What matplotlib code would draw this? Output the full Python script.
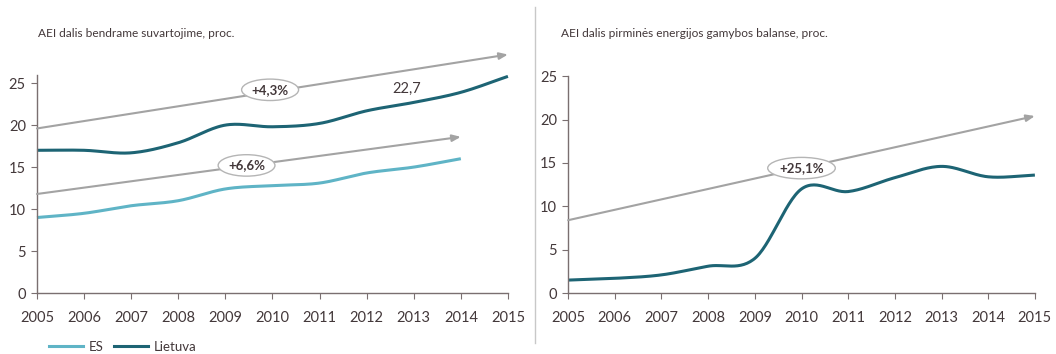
# AEI (renewable energy) share charts - ES vs Lietuva
import numpy as np
import matplotlib.pyplot as plt
from matplotlib.lines import Line2D

# ─── DATA ─────────────────────────────────────────────────────
YEARS        = [2005, 2006, 2007, 2008, 2009, 2010, 2011, 2012, 2013, 2014, 2015]
LT_CONSUME   = [17.0, 17.0, 16.7, 17.9, 20.0, 19.8, 20.2, 21.7, 22.7, 23.9, 25.8]
ES_CONSUME   = [9.0, 9.5, 10.4, 11.0, 12.4, 12.8, 13.1, 14.3, 15.0, 16.0]
LT_PRIMARY   = [1.5, 1.7, 2.1, 3.1, 4.0, 12.0, 11.7, 13.3, 14.6, 13.4, 13.6]

# trend arrows: (x0, y0, x1, y1, label, label_x, label_y)
TRENDS_LEFT  = [(2005, 19.6, 2015, 28.4, "+4,3%", 2009.95, 24.2),
                (2005, 11.8, 2014, 18.6, "+6,6%", 2009.45, 15.2)]
TRENDS_RIGHT = [(2005, 8.4, 2015, 20.4, "+25,1%", 2010.0, 14.4)]

TITLE_LEFT   = "AEI dalis bendrame suvartojime, proc."
TITLE_RIGHT  = "AEI dalis pirminės energijos gamybos balanse, proc."
NOTE_LEFT    = ("22,7", 2012.85, 24.3)
# ──────────────────────────────────────────────────────────────

DARK   = "#1d6474"
LIGHT  = "#5fb4c6"
ARROW  = "#a3a3a3"
TEXT   = "#43383a"
SPINE  = "#7a6f70"

plt.rcParams['font.family'] = ['Lato', 'DejaVu Sans']


def smooth(x, y, n=30):
    # Catmull-Rom style smoothing, like Excel's smoothed line
    x = np.asarray(x, float)
    y = np.asarray(y, float)
    px = np.concatenate([[2 * x[0] - x[1]], x, [2 * x[-1] - x[-2]]])
    py = np.concatenate([[2 * y[0] - y[1]], y, [2 * y[-1] - y[-2]]])
    xs, ys = [], []
    t = np.linspace(0, 1, n, endpoint=False)
    for i in range(1, len(px) - 2):
        for p, out in ((px, xs), (py, ys)):
            p0, p1, p2, p3 = p[i - 1], p[i], p[i + 1], p[i + 2]
            out.extend(0.5 * ((2 * p1) + (-p0 + p2) * t
                              + (2 * p0 - 5 * p1 + 4 * p2 - p3) * t ** 2
                              + (-p0 + 3 * p1 - 3 * p2 + p3) * t ** 3))
    xs.append(x[-1])
    ys.append(y[-1])
    return np.array(xs), np.array(ys)


def style_axes(ax, ymax):
    ax.set_xlim(2005, 2015)
    ax.set_ylim(0, ymax)
    ax.set_xticks(YEARS)
    ax.set_yticks([0, 5, 10, 15, 20, 25])
    for s in ("top", "right"):
        ax.spines[s].set_visible(False)
    for s in ("left", "bottom"):
        ax.spines[s].set_color(SPINE)
        ax.spines[s].set_linewidth(1.0)
    ax.tick_params(colors=SPINE, labelcolor=TEXT, labelsize=10.5,
                   direction="out", length=4)
    ax.tick_params(axis="x", pad=9)
    ax.tick_params(axis="y", pad=4)


def draw_trends(ax, trends):
    for x0, y0, x1, y1, label, lx, ly in trends:
        ax.annotate("", xy=(x1, y1), xytext=(x0, y0), annotation_clip=False,
                    arrowprops=dict(arrowstyle="-|>,head_length=0.5,head_width=0.2",
                                    color=ARROW, lw=1.5, shrinkA=0, shrinkB=0))
        ax.text(lx, ly, label, ha="center", va="center", fontsize=9.5,
                fontweight="bold", color=TEXT, clip_on=False,
                bbox=dict(boxstyle="ellipse,pad=0.12",
                          fc="white", ec="#b5b5b5", lw=1.0))


fig = plt.figure(figsize=(10.56, 3.54), dpi=100)

ax1 = fig.add_axes([0.035, 0.172, 0.446, 0.617])
style_axes(ax1, 26)
draw_trends(ax1, TRENDS_LEFT)
sx, sy = smooth(YEARS, LT_CONSUME)
ax1.plot(sx, sy, color=DARK, lw=2.2, clip_on=False, solid_capstyle="butt")
sx, sy = smooth(YEARS[:len(ES_CONSUME)], ES_CONSUME)
ax1.plot(sx, sy, color=LIGHT, lw=2.2, clip_on=False, solid_capstyle="butt")
ax1.text(NOTE_LEFT[1], NOTE_LEFT[2], NOTE_LEFT[0], ha="center", va="center",
         fontsize=10.5, color=TEXT)

ax2 = fig.add_axes([0.538, 0.172, 0.442, 0.613])
style_axes(ax2, 25)
draw_trends(ax2, TRENDS_RIGHT)
sx, sy = smooth(YEARS, LT_PRIMARY)
ax2.plot(sx, sy, color=DARK, lw=2.2, clip_on=False, solid_capstyle="butt")

fig.text(0.036, 0.905, TITLE_LEFT, fontsize=8.6, color=TEXT, va="center")
fig.text(0.531, 0.905, TITLE_RIGHT, fontsize=8.6, color=TEXT, va="center")

# vertical separator
fig.add_artist(Line2D([0.507, 0.507], [0.03, 0.98], color="#c8c8c8", lw=1.0))

# legend at bottom
handles = [Line2D([], [], color=LIGHT, lw=2.2), Line2D([], [], color=DARK, lw=2.2)]
fig.legend(handles, ["ES", "Lietuva"], loc="lower left", bbox_to_anchor=(0.035, -0.03),
           ncol=2, frameon=False, fontsize=9.5, handlelength=2.6, handletextpad=0.4,
           columnspacing=0.8, labelcolor=TEXT)

fig.savefig("out.png", dpi=100)
